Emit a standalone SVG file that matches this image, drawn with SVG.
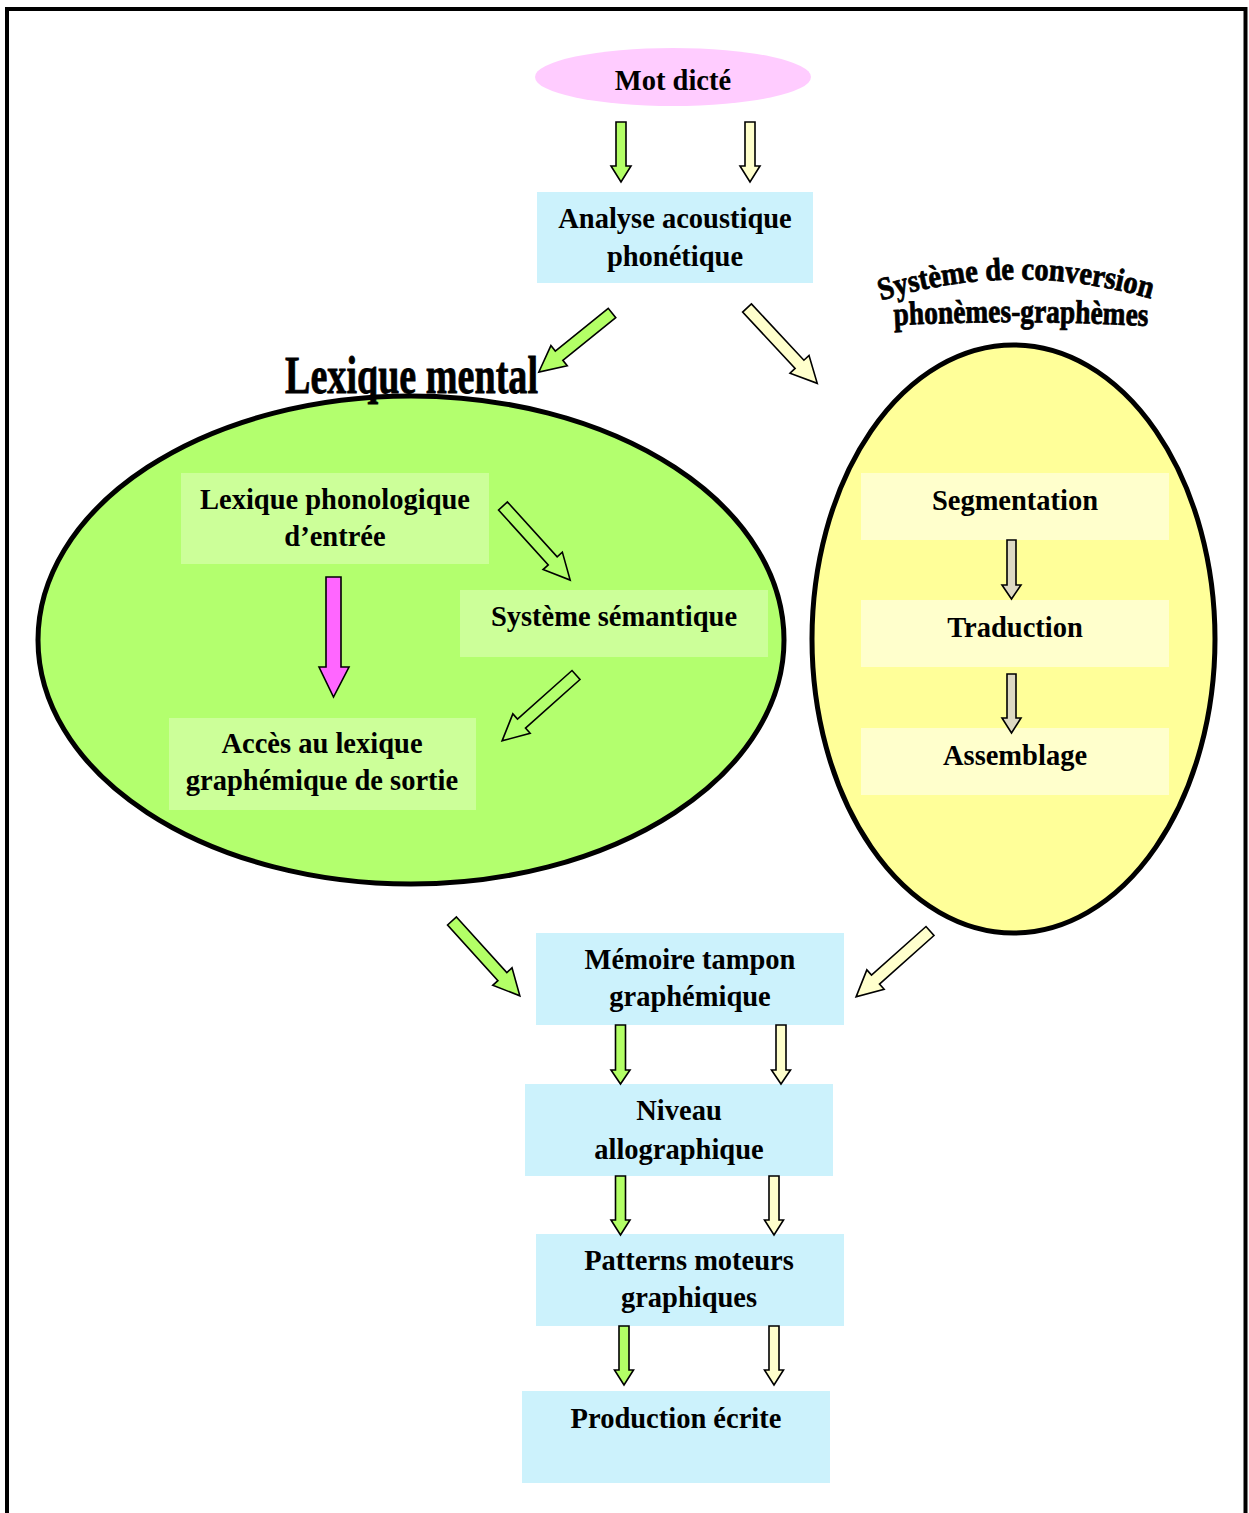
<svg xmlns="http://www.w3.org/2000/svg" width="1249" height="1513" viewBox="0 0 1249 1513">
<style>
.t{font-family:"Liberation Serif","Times New Roman",serif;font-weight:bold;font-size:28.5px;fill:#000;text-anchor:middle}
.wa{font-family:"Liberation Serif","Times New Roman",serif;font-weight:bold;fill:#000;stroke:#000;stroke-width:0.8}
.box{fill:#CCF2FC}
.gbox{fill:#CCFF99}
.ybox{fill:#FFFFCC}
.ar{stroke:#000;stroke-width:1.6;stroke-linejoin:miter}
.g{fill:#B3FF66}
.y{fill:#FFFFCC}
.gr{fill:#DDD9C3}
.m{fill:#FF66FF}
.h{fill:#B3FF6E}
</style>
<defs>
<path id="arc1" d="M 864 306 Q 1016 254 1168 304"/>
<path id="arc2" d="M 880 326 Q 1021 318 1162 327"/>
</defs>
<rect x="7" y="9" width="1238.5" height="1530" fill="none" stroke="#000" stroke-width="4"/>

<g id="lexique-mental">
<ellipse cx="411" cy="640" rx="373" ry="244" fill="#B3FF6E" stroke="#000" stroke-width="5"/>
<text class="wa" x="285" y="393" font-size="53" textLength="253" lengthAdjust="spacingAndGlyphs">Lexique mental</text>
</g>
<g id="systeme-conversion">
<ellipse cx="1013.5" cy="639" rx="201.5" ry="294" fill="#FFFF99" stroke="#000" stroke-width="5"/>
<text class="wa" font-size="32"><textPath href="#arc1" startOffset="50%" text-anchor="middle" textLength="274" lengthAdjust="spacingAndGlyphs">Système de conversion</textPath></text>
<text class="wa" font-size="33"><textPath href="#arc2" startOffset="50%" text-anchor="middle" textLength="254" lengthAdjust="spacingAndGlyphs">phonèmes-graphèmes</textPath></text>
</g>

<g id="mot-dicte">
<ellipse cx="673" cy="77" rx="138" ry="29" fill="#FFCCFF"/>
<text class="t" x="673" y="90">Mot dicté</text>
</g>
<g id="analyse">
<rect class="box" x="537" y="192" width="276" height="91"/>
<text class="t" x="675" y="228">Analyse acoustique</text>
<text class="t" x="675" y="266">phonétique</text>
</g>
<g id="lexique-phono">
<rect class="gbox" x="181" y="473" width="308" height="91"/>
<text class="t" x="335" y="509">Lexique phonologique</text>
<text class="t" x="335" y="546">d’entrée</text>
</g>
<g id="semantique">
<rect class="gbox" x="460" y="590" width="308" height="67"/>
<text class="t" x="614" y="626">Système sémantique</text>
</g>
<g id="acces">
<rect class="gbox" x="169" y="718" width="307" height="92"/>
<text class="t" x="322" y="753">Accès au lexique</text>
<text class="t" x="322" y="790">graphémique de sortie</text>
</g>
<g id="segmentation">
<rect class="ybox" x="861" y="473" width="308" height="67"/>
<text class="t" x="1015" y="510">Segmentation</text>
</g>
<g id="traduction">
<rect class="ybox" x="861" y="600" width="308" height="67"/>
<text class="t" x="1015" y="637">Traduction</text>
</g>
<g id="assemblage">
<rect class="ybox" x="861" y="728" width="308" height="67"/>
<text class="t" x="1015" y="765">Assemblage</text>
</g>
<g id="memoire">
<rect class="box" x="536" y="933" width="308" height="92"/>
<text class="t" x="690" y="969">Mémoire tampon</text>
<text class="t" x="690" y="1006">graphémique</text>
</g>
<g id="niveau">
<rect class="box" x="525" y="1084" width="308" height="92"/>
<text class="t" x="679" y="1120">Niveau</text>
<text class="t" x="679" y="1159">allographique</text>
</g>
<g id="patterns">
<rect class="box" x="536" y="1234" width="308" height="92"/>
<text class="t" x="689" y="1270">Patterns moteurs</text>
<text class="t" x="689" y="1307">graphiques</text>
</g>
<g id="production">
<rect class="box" x="522" y="1391" width="308" height="92"/>
<text class="t" x="676" y="1428">Production écrite</text>
</g>

<g id="connectors">
<polygon class="ar g" points="616,122 626,122 626,166 631,166 621,182 611,166 616,166"/>
<polygon class="ar y" points="745,122 755,122 755,166 760,166 750,182 740,166 745,166"/>
<polygon class="ar gr" transform="translate(1011.5,0)" points="-4.5,540 4.5,540 4.5,585 9.5,585 0,599 -9.5,585 -4.5,585"/>
<polygon class="ar gr" transform="translate(1011.5,0)" points="-4.5,674 4.5,674 4.5,718 9.5,718 0,733 -9.5,718 -4.5,718"/>
<polygon class="ar m" points="326,577 341,577 341,667 349,667 333.5,697 319,667 326,667"/>
<polygon class="ar g" transform="translate(620.5,0)" points="-5,1025 5,1025 5,1070 9.5,1070 0,1084 -9.5,1070 -5,1070"/>
<polygon class="ar y" transform="translate(781,0)" points="-5,1025 5,1025 5,1070 9.5,1070 0,1084 -9.5,1070 -5,1070"/>
<polygon class="ar g" transform="translate(620.5,0)" points="-5,1176 5,1176 5,1220 9.5,1220 0,1235 -9.5,1220 -5,1220"/>
<polygon class="ar y" transform="translate(774,0)" points="-5,1176 5,1176 5,1220 9.5,1220 0,1235 -9.5,1220 -5,1220"/>
<polygon class="ar g" transform="translate(624,0)" points="-5,1326 5,1326 5,1370 9.5,1370 0,1385 -9.5,1370 -5,1370"/>
<polygon class="ar y" transform="translate(774,0)" points="-5,1326 5,1326 5,1370 9.5,1370 0,1385 -9.5,1370 -5,1370"/>
<polygon class="ar g" transform="translate(612,313) rotate(141.1)" points="0,-6 68,-6 68,-13 94,0 68,13 68,6 0,6"/>
<polygon class="ar y" transform="translate(747,308) rotate(47)" points="0,-6 77,-6 77,-13 103,0 77,13 77,6 0,6"/>
<polygon class="ar h" transform="translate(503,506) rotate(47.8)" points="0,-6 74,-6 74,-13 100,0 74,13 74,6 0,6"/>
<polygon class="ar h" transform="translate(576,675) rotate(138.3)" points="0,-6 73,-6 73,-13 99,0 73,13 73,6 0,6"/>
<polygon class="ar g" transform="translate(452,921) rotate(47.8)" points="0,-6 75,-6 75,-13 101,0 75,13 75,6 0,6"/>
<polygon class="ar y" transform="translate(930,931) rotate(138.3)" points="0,-6 73,-6 73,-13 99,0 73,13 73,6 0,6"/>
</g>
</svg>
